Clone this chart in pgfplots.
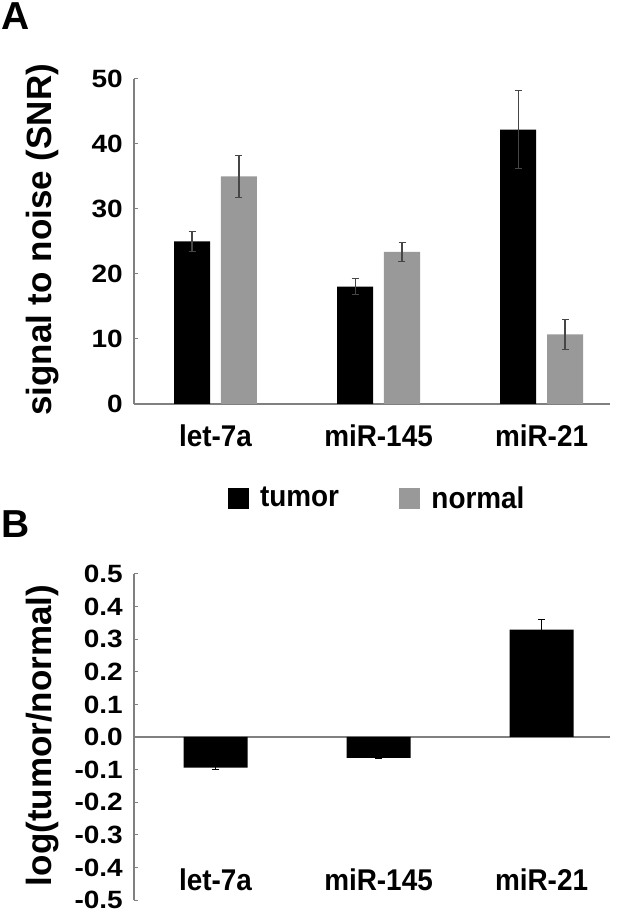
\documentclass[border=0pt]{standalone}
\usepackage{fontspec}
\usepackage{pgfplots}
\pgfplotsset{compat=1.18}
\setmainfont{Liberation Sans}
\newfontfamily\wfont{Liberation Sans Bold}
\newfontfamily\yfont{Liberation Sans Bold}[FakeStretch=1.12]
\newfontfamily\xfont{Liberation Sans Bold}[FakeStretch=0.93]
\newcommand\ytickfont{\yfont\fontsize{25}{29}\selectfont}
\newcommand\xtickfont{\xfont\fontsize{30}{34}\selectfont}
\newcommand\labfont{\wfont\fontsize{35}{40}\selectfont}
\definecolor{normalgray}{RGB}{153,153,153}
\definecolor{axisgray}{RGB}{128,128,128}
\definecolor{errgray}{RGB}{70,70,70}

\pgfplotsset{
  panel/.style={
    scale only axis, width=476pt,
    xmin=-0.5, xmax=2.42,
    axis y line*=left, axis x line*=bottom,
    axis line style={draw=axisgray, line width=1.2pt},
    y tick style={draw=axisgray, line width=1pt},
    x tick style={draw=none},
    tick align=inside, major tick length=4pt,
    xtick={0,1,2}, xticklabels={let-7a,miR-145,miR-21},
    /pgf/number format/assume math mode=true,
    xticklabel style={font=\xtickfont},
    yticklabel style={font=\ytickfont, anchor=east, inner sep=0pt, xshift=-11pt},
  },
  errs/.style={error bars/.cd, y dir=both, y explicit,
    error bar style={draw=#1, line width=1.1pt},
    error mark options={rotate=90, draw=#1, mark size=3.5pt, line width=1.1pt}},
  sq/.style={legend image code/.code={\fill[#1] (0pt,-10pt) rectangle (20pt,10pt); \path (30pt,0pt);}},
}

\begin{document}
\begin{tikzpicture}[x=1pt,y=1pt]
\path[use as bounding box] (0,0) rectangle (623,909);

\node[font=\wfont\fontsize{39}{42}\selectfont, anchor=center, inner sep=0pt] at (16,893) {A};
\node[font=\wfont\fontsize{39}{42}\selectfont, anchor=center, inner sep=0pt] at (16,385) {B};

% panel A
\begin{axis}[panel,
  at={(134pt,505pt)}, anchor=south west, height=325pt,
  ymin=0, ymax=50, ytick={0,10,20,30,40,50},
  xticklabel style={anchor=center, yshift=-32pt},
  ylabel={signal to noise (SNR)},
  every axis y label/.style={at={(axis description cs:-0.193,0.505)}, rotate=90, anchor=center, font=\labfont},
  legend style={draw=none, fill=none, at={(axis description cs:0.19,-0.289)}, anchor=west,
    legend columns=2, font=\xtickfont,
    /tikz/every even column/.append style={column sep=58pt}},
  legend cell align=left,
]
\addlegendimage{sq=black}
\addlegendentry{tumor}
\addlegendimage{sq=normalgray}
\addlegendentry{normal}

% tumor
\addplot[ybar, bar width=36pt, bar shift=0pt, fill=black, draw=none, forget plot, errs=errgray]
coordinates {(-0.144,25.0) +- (0,1.55) (0.856,18.05) +- (0,1.25) (1.856,42.2) +- (0,6.0)};
% normal
\addplot[ybar, bar width=36pt, bar shift=0pt, fill=normalgray, draw=none, forget plot, errs=errgray]
coordinates {(0.144,35.0) +- (0,3.2) (1.144,23.4) +- (0,1.45) (2.144,10.7) +- (0,2.3)};
\end{axis}

% panel B
\begin{axis}[panel,
  at={(134pt,9pt)}, anchor=south west, height=326pt,
  ymin=-0.5, ymax=0.5,
  ytick={-0.5,-0.4,-0.3,-0.2,-0.1,0,0.1,0.2,0.3,0.4,0.5},
  yticklabel style={/pgf/number format/.cd, fixed, fixed zerofill, precision=1},
  x axis line style={draw=none},
  extra y ticks={0}, extra y tick labels={},
  extra y tick style={major tick length=0pt, grid=major,
    grid style={draw=axisgray, line width=1.2pt}},
  xticklabel style={anchor=center, yshift=20pt},
  ylabel={log(tumor/normal)},
  every axis y label/.style={at={(axis description cs:-0.193,0.505)}, rotate=90, anchor=center, font=\labfont},
]
\addplot[ybar, bar width=64pt, bar shift=0pt, fill=black, draw=none, errs=black]
coordinates {(0,-0.094) +- (0,0.006) (1,-0.064) +- (0,0.003) (2,0.329) +- (0,0.032)};
\end{axis}
\end{tikzpicture}
\end{document}
